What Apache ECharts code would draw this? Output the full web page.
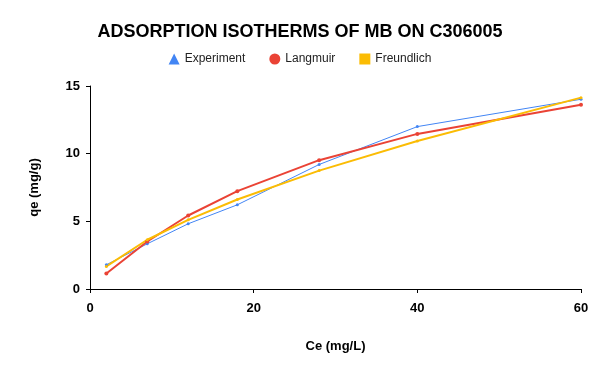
<!DOCTYPE html>
<html><head><meta charset="utf-8">
<script src="https://cdn.jsdelivr.net/npm/echarts@6/dist/echarts.min.js"></script>
<style>html,body{margin:0;padding:0;background:#fff}#c{width:600px;height:371px}</style>
</head><body><div id="c"></div>
<script>
var ce = [2, 7, 12, 18, 28, 40, 60];
var experiment = [1.79, 3.34, 4.82, 6.22, 9.2, 12.0, 14.02];
var langmuir = [1.15, 3.51, 5.43, 7.23, 9.52, 11.46, 13.62];
var freundlich = [1.67, 3.64, 5.11, 6.61, 8.75, 10.94, 14.14];
var xTicks = [0, 20, 40, 60];
var yTicks = [0, 5, 10, 15];

function pairs(xs, ys){ return xs.map(function(x,i){return [x, ys[i]];}); }
var FONT = '"Liberation Sans", Arial, sans-serif';
var chart = echarts.init(document.getElementById('c'), null, {renderer:'canvas'});
chart.setOption({
  animation: false,
  title: {text: 'ADSORPTION ISOTHERMS OF MB ON C306005', left: 'center', top: 18,
    textStyle: {fontFamily: FONT, fontSize: 18, fontWeight: 'bold', color: '#000'}},
  legend: {top: 48, left: 'center', itemGap: 24, itemWidth: 11, itemHeight: 11,
    textStyle: {fontFamily: FONT, fontSize: 12, color: '#222'},
    data: [
      {name: 'Experiment', icon: 'triangle', itemStyle: {color: '#4285F4'}},
      {name: 'Langmuir', icon: 'circle', itemStyle: {color: '#EA4335'}},
      {name: 'Freundlich', icon: 'rect', itemStyle: {color: '#FBBC04'}}
    ]},
  grid: {left: 90, right: 19, top: 86, bottom: 82},
  xAxis: {type: 'value', min: xTicks[0], max: xTicks[xTicks.length-1], interval: 20,
    name: 'Ce (mg/L)', nameLocation: 'middle', nameGap: 51,
    nameTextStyle: {fontFamily: FONT, fontSize: 13, fontWeight: 'bold', color: '#000'},
    axisLine: {lineStyle: {color: '#000', width: 1}},
    axisTick: {show: true, length: 4, lineStyle: {color: '#000'}},
    axisLabel: {fontFamily: FONT, fontSize: 13, fontWeight: 'bold', color: '#000', margin: 13},
    splitLine: {show: false}},
  yAxis: {type: 'value', min: yTicks[0], max: yTicks[yTicks.length-1], interval: 5,
    name: 'qe (mg/g)', nameLocation: 'middle', nameGap: 49, nameRotate: 90,
    nameTextStyle: {fontFamily: FONT, fontSize: 13, fontWeight: 'bold', color: '#000'},
    axisLine: {show: true, lineStyle: {color: '#000', width: 1}},
    axisTick: {show: true, length: 4, lineStyle: {color: '#000'}},
    axisLabel: {fontFamily: FONT, fontSize: 13, fontWeight: 'bold', color: '#000', margin: 10},
    splitLine: {show: false}},
  series: [
    {name: 'Experiment', type: 'line', data: pairs(ce, experiment), symbol: 'circle', symbolSize: 3,
      lineStyle: {color: '#4285F4', width: 1}, itemStyle: {color: '#4285F4'}},
    {name: 'Langmuir', type: 'line', data: pairs(ce, langmuir), symbol: 'circle', symbolSize: 4,
      lineStyle: {color: '#EA4335', width: 2}, itemStyle: {color: '#EA4335'}},
    {name: 'Freundlich', type: 'line', data: pairs(ce, freundlich), symbol: 'circle', symbolSize: 3,
      lineStyle: {color: '#FBBC04', width: 2}, itemStyle: {color: '#FBBC04'}}
  ]
});
</script></body></html>
